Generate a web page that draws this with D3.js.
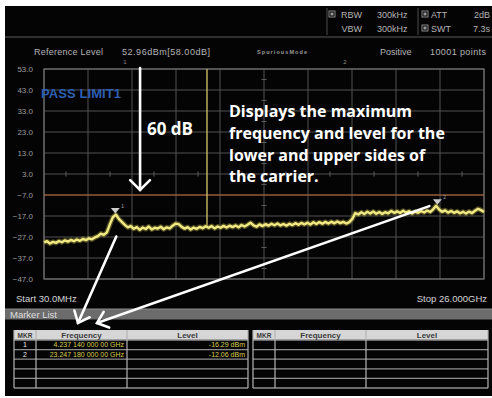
<!DOCTYPE html>
<html><head><meta charset="utf-8">
<script src="https://cdn.jsdelivr.net/npm/d3@7"></script>
<style>
html,body{margin:0;padding:0;background:#fff;}
svg{display:block;}
</style></head><body>
<svg id="c" width="492" height="398"></svg>
<script>
// ---------- data ----------
const traceStartGHz = 0.03, traceStopGHz = 26.0;
const traceLevels = [
 -29.6,-29.0,-30.1,-29.3,-29.8,-28.9,-29.5,-28.6,-29.2,-28.4,
 -29.0,-28.2,-28.8,-27.9,-28.5,-27.6,-28.1,-27.2,-26.6,-25.4,
 -26.0,-24.8,-21.0,-17.6,-16.3,-18.4,-19.8,-21.2,-22.4,-21.8,
 -23.1,-22.3,-23.6,-22.5,-23.2,-22.0,-23.4,-22.6,-23.0,-22.1,
 -23.3,-22.4,-22.9,-21.6,-20.6,-20.9,-22.2,-23.0,-22.3,-23.4,
 -22.5,-23.1,-22.2,-22.8,-21.9,-22.6,-21.8,-22.9,-22.0,-22.6,
 -21.7,-22.5,-21.6,-22.3,-21.5,-22.4,-21.3,-22.0,-21.2,-20.2,
 -21.5,-22.1,-21.0,-21.8,-20.9,-21.6,-20.7,-21.4,-20.6,-21.5,
 -20.8,-21.6,-20.7,-21.3,-20.4,-21.2,-20.3,-21.0,-20.2,-21.1,
 -20.0,-20.8,-19.9,-20.7,-19.8,-20.6,-19.7,-20.5,-19.6,-20.4,
 -19.8,-20.6,-19.9,-18.4,-15.6,-16.3,-15.2,-16.1,-15.0,-15.8,
 -14.9,-15.9,-15.1,-16.0,-15.2,-15.7,-14.6,-15.5,-14.8,-15.6,
 -14.5,-15.4,-14.7,-15.8,-14.9,-15.5,-14.6,-15.3,-14.4,-15.1,
 -13.8,-12.1,-13.9,-15.0,-14.3,-15.4,-14.6,-15.5,-14.8,-15.7,
 -15.0,-15.8,-14.9,-15.6,-14.5,-13.6,-14.2,-15.1
];
const yTicks = [53,43,33,23,13,3,-7,-17,-27,-37,-47];
const yTop = 53, yBottom = -47;
const xDivisions = 10;
const limitLevel = -7.0;
const carrierGHz = 9.65, carrierLevel = 52.96;
const markerIds = ["1","2"];
const markerFreqGHz = [4.23714, 23.24718];
const markerLevels = [-16.29, -12.06];
const markerFreqText = ["4.237 140 000 00 GHz","23.247 180 000 00 GHz"];
const markerLevelText = ["-16.29 dBm","-12.06 dBm"];
const tableHeaders = ["MKR","Frequency","Level"];
const tableRowCount = 5;
const headerRow1 = ["RBW","300kHz","ATT","2dB"];
const headerRow2 = ["VBW","300kHz","SWT","7.3s"];
const infoRow = ["Reference Level","52.96dBm[58.00dB]","SpuriousMode","Positive","10001 points"];
const annotationLines = ["Displays the maximum","frequency and level for the","lower and upper sides of","the carrier."];
const dbLabel = "60 dB";
const passLabel = "PASS LIMIT1";
const startLabel = "Start 30.0MHz", stopLabel = "Stop 26.000GHz";

// ---------- drawing ----------
const svg = d3.select("#c");
const F = "'Liberation Sans', Arial, sans-serif";
const plot = {l:44, r:484, t:69, b:279};
const x = d3.scaleLinear().domain([traceStartGHz, traceStopGHz]).range([plot.l, plot.r]);
const y = d3.scaleLinear().domain([yBottom, yTop]).range([plot.b, plot.t]);

svg.append("rect").attr("x",5).attr("y",6).attr("width",487).attr("height",390).attr("fill","#040404");

// header
svg.append("line").attr("x1",5).attr("x2",492).attr("y1",37).attr("y2",37).attr("stroke","#5c5c5c").attr("stroke-width",1.2);
[327,418].forEach(v=>svg.append("line").attr("x1",v).attr("x2",v).attr("y1",8).attr("y2",35).attr("stroke","#4a4a4a"));
function checkbox(cx,cy){
  svg.append("rect").attr("x",cx).attr("y",cy).attr("width",6).attr("height",6).attr("fill","none").attr("stroke","#aaa").attr("stroke-width",0.8);
  svg.append("rect").attr("x",cx+1.5).attr("y",cy+1.5).attr("width",3).attr("height",3).attr("fill","#999");
}
checkbox(329,11); checkbox(422,11); checkbox(422,25);
const hs = {fill:"#b4b4b4", "font-size":"9px", "font-family":F};
function txt(t,xx,yy,st,anchor){const e=svg.append("text").attr("x",xx).attr("y",yy).text(t).attr("text-anchor",anchor||"start");Object.entries(st).forEach(([k,v])=>e.attr(k,v));return e;}
txt(headerRow1[0],362,17.5,hs,"end"); txt(headerRow1[1],377,17.5,hs); txt(headerRow1[2],431,17.5,hs); txt(headerRow1[3],490,17.5,hs,"end");
txt(headerRow2[0],362,31.5,hs,"end"); txt(headerRow2[1],377,31.5,hs); txt(headerRow2[2],431,31.5,hs); txt(headerRow2[3],490,31.5,hs,"end");
txt(infoRow[0],34,54.5,hs).attr("textLength",69); txt(infoRow[1],122,54.5,hs).attr("textLength",88);
txt(infoRow[2],257,54,{fill:"#9a9a9a","font-size":"5.5px","font-weight":"bold","font-family":F}).attr("textLength",50);
txt(infoRow[3],380,54.5,hs); txt(infoRow[4],430,54.5,hs).attr("textLength",56);
txt(markerIds[0],125,64,{fill:"#8a8a8a","font-size":"6px","font-family":F},"middle");
txt(markerIds[1],345,64,{fill:"#8a8a8a","font-size":"6px","font-family":F},"middle");

// grid
const g = svg.append("g");
yTicks.forEach(v=>g.append("line").attr("x1",plot.l).attr("x2",plot.r).attr("y1",y(v)).attr("y2",y(v)).attr("stroke","#505050").attr("stroke-width",1));
const xg = d3.range(xDivisions+1).map(i=>traceStartGHz + i*(traceStopGHz-traceStartGHz)/xDivisions);
xg.forEach(v=>g.append("line").attr("x1",x(v)).attr("x2",x(v)).attr("y1",plot.t).attr("y2",plot.b).attr("stroke","#505050"));
// centre-line minor ticks
const yc = y((yTop+yBottom)/2), xc = x((traceStartGHz+traceStopGHz)/2);
d3.range(xDivisions).forEach(i=>{const v=traceStartGHz+(i+0.5)*(traceStopGHz-traceStartGHz)/xDivisions;
  g.append("line").attr("x1",x(v)).attr("x2",x(v)).attr("y1",yc-2.5).attr("y2",yc+2.5).attr("stroke","#5a5a5a");});
d3.range(yTicks.length-1).forEach(i=>{const v=yTicks[i]-5;
  g.append("line").attr("x1",xc-2.5).attr("x2",xc+2.5).attr("y1",y(v)).attr("y2",y(v)).attr("stroke","#5a5a5a");});
g.append("rect").attr("x",plot.l).attr("y",plot.t).attr("width",plot.r-plot.l).attr("height",plot.b-plot.t).attr("fill","none").attr("stroke","#707070").attr("stroke-width",1.2);

// y labels
yTicks.forEach(v=>txt(d3.format(".1f")(v),33,y(v)+3,{fill:"#9c9c9c","font-size":"8px","font-family":F},"end"));

// limit line
svg.append("line").attr("x1",plot.l).attr("x2",plot.r).attr("y1",y(limitLevel)).attr("y2",y(limitLevel)).attr("stroke","#b5602a").attr("stroke-width",1.2);

// carrier spike
const nT = traceLevels.length;
const fAt = i => traceStartGHz + i*(traceStopGHz-traceStartGHz)/(nT-1);
const carrierIdx = Math.round((carrierGHz-traceStartGHz)/(traceStopGHz-traceStartGHz)*(nT-1));
svg.append("line").attr("x1",x(carrierGHz)).attr("x2",x(carrierGHz)).attr("y1",y(carrierLevel)).attr("y2",y(traceLevels[carrierIdx])).attr("stroke","#c8b968").attr("stroke-width",1.4);

// trace
const line = d3.line().x((d,i)=>x(fAt(i))).y(d=>y(d));
svg.append("path").datum(traceLevels).attr("d",line).attr("fill","none").attr("stroke","#8f8636").attr("stroke-width",5).attr("stroke-opacity",0.55).attr("stroke-linejoin","round");
svg.append("path").datum(traceLevels).attr("d",line).attr("fill","none").attr("stroke","#f1ea84").attr("stroke-width",2.4).attr("stroke-linejoin","round");

// markers
markerIds.forEach((id,i)=>{
  const mx=x(markerFreqGHz[i]), my=y(markerLevels[i]);
  svg.append("path").attr("d",`M${mx-4.5},${my-6.5}L${mx+4.5},${my-6.5}L${mx},${my-1}Z`).attr("fill","#cdcdcd");
  txt(id,mx+6,my-7,{fill:"#aaa","font-size":"5px","font-family":F});
});

// PASS LIMIT
txt(passLabel,41,98,{fill:"#2e5fb2","font-size":"13px","font-weight":"bold","font-family":F}).attr("textLength",80);

// start / stop
txt(startLabel,16,301.5,{fill:"#d4d4d4","font-size":"9.5px","font-family":F});
txt(stopLabel,487,301.5,{fill:"#d4d4d4","font-size":"9.5px","font-family":F},"end");

// marker list bar
svg.append("rect").attr("x",5).attr("y",309).attr("width",487).attr("height",10.5).attr("fill","#6c6c6c");
svg.append("line").attr("x1",5).attr("x2",492).attr("y1",309).attr("y2",309).attr("stroke","#8a8a8a");
txt("Marker List",10,317.5,{fill:"#dcdcdc","font-size":"9.5px","font-family":F});

// tables
function drawTable(x0, widths, rows){
  const tg = svg.append("g");
  const top=330, hh=10, rh=9.6;
  const total = d3.sum(widths);
  tg.append("rect").attr("x",x0).attr("y",top).attr("width",total).attr("height",hh).attr("fill","#d6d6d6");
  const bottom = top+hh+rh*tableRowCount;
  d3.range(tableRowCount+1).forEach(k=>tg.append("line").attr("x1",x0).attr("x2",x0+total).attr("y1",top+hh+k*rh).attr("y2",top+hh+k*rh).attr("stroke","#8e8e8e").attr("stroke-width",1.3));
  let cx=x0; const edges=[x0];
  widths.forEach(w=>{cx+=w;edges.push(cx);});
  edges.forEach(e=>tg.append("line").attr("x1",e).attr("x2",e).attr("y1",top).attr("y2",bottom).attr("stroke","#b4b4b4").attr("stroke-width",1.2));
  tableHeaders.forEach((h,j)=>txt(h,(edges[j]+edges[j+1])/2,top+7.8,{fill:"#3a3a3a","font-size":j===0?"6.5px":"8px","font-weight":"bold","font-family":F},"middle"));
  rows.forEach((r,k)=>{
    const by = top+hh+k*rh+7;
    txt(r[0],(edges[0]+edges[1])/2,by,{fill:"#eee","font-size":"7px","font-family":F},"middle");
    txt(r[1],edges[2]-3,by,{fill:"#d9cf4e","font-size":"7px","font-family":F},"end");
    txt(r[2],edges[3]-3,by,{fill:"#d9cf4e","font-size":"7px","font-family":F},"end");
  });
}
drawTable(14,[22,91,121], markerIds.map((id,i)=>[id,markerFreqText[i],markerLevelText[i]]));
drawTable(253,[22,91,122], []);

// annotations
const ann = svg.append("g").attr("stroke","#fff").attr("stroke-width",2.6).attr("stroke-linecap","round").attr("fill","none");
function arrow(x1,y1,x2,y2,len,ang){
  ann.append("line").attr("x1",x1).attr("y1",y1).attr("x2",x2).attr("y2",y2);
  const a = Math.atan2(y2-y1,x2-x1), t=ang*Math.PI/180;
  const p1=[x2-len*Math.cos(a-t), y2-len*Math.sin(a-t)], p2=[x2-len*Math.cos(a+t), y2-len*Math.sin(a+t)];
  ann.append("path").attr("d",`M${p1[0]},${p1[1]}L${x2},${y2}L${p2[0]},${p2[1]}`);
}
const arrowX = x(5.7);
arrow(arrowX, y(carrierLevel)-1, arrowX, y(limitLevel)-5, 14, 45);
arrow(x(markerFreqGHz[0])+1, y(markerLevels[0])+22, 78, 323, 13, 40);
arrow(x(markerFreqGHz[1])-8, y(markerLevels[1])+0.5, 97, 323, 13, 40);

txt(dbLabel,147,135,{fill:"#fff","font-size":"17px","font-weight":"bold","font-family":"'Open Sans', sans-serif"});
annotationLines.forEach((l,i)=>txt(l,229,117+i*21.8,{fill:"#fff","font-size":"16px","font-weight":"bold","font-family":"'Open Sans', sans-serif"}));
</script>
</body></html>
